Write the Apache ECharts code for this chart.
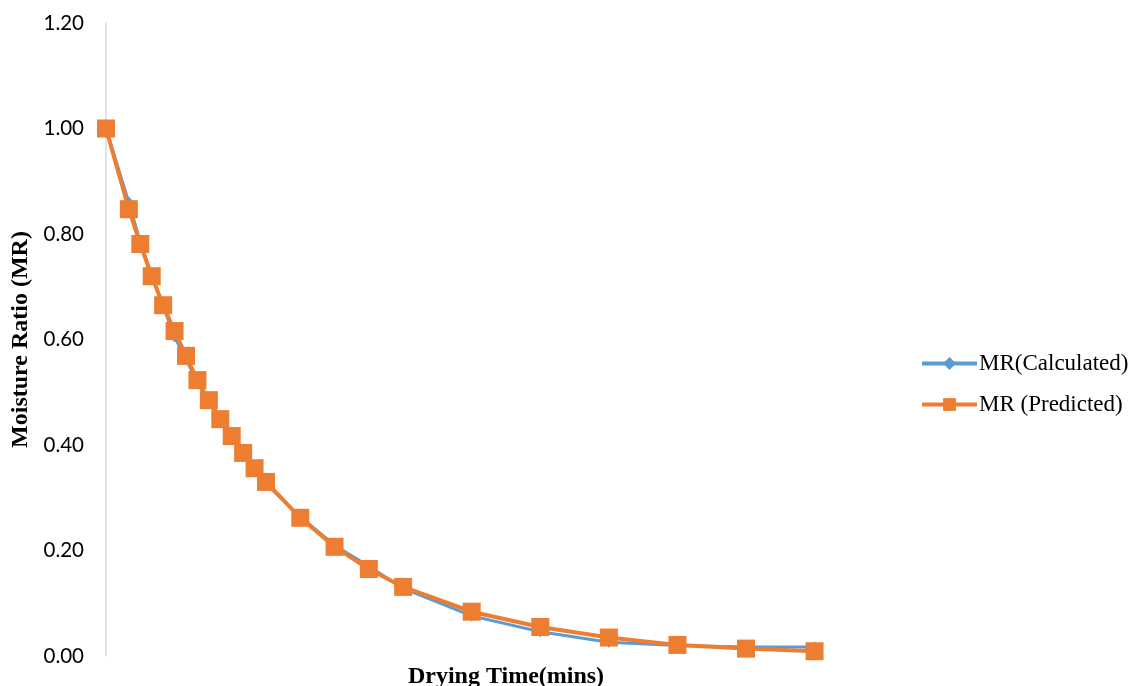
<!DOCTYPE html>
<html>
<head>
<meta charset="utf-8">
<script src="https://cdn.jsdelivr.net/npm/echarts@6/dist/echarts.min.js"></script>
<style>html,body{margin:0;padding:0;background:#fff;}#c{width:1136px;height:686px;}</style>
</head>
<body>
<div id="c"></div>
<script>
const times = [0, 10, 15, 20, 25, 30, 35, 40, 45, 50, 55, 60, 65, 70, 85, 100, 115, 130, 160, 190, 220, 250, 280, 310];
const mrCalculated = [1.00, 0.860, 0.785, 0.722, 0.663, 0.605, 0.562, 0.520, 0.478, 0.452, 0.420, 0.382, 0.352, 0.326, 0.264, 0.210, 0.170, 0.128, 0.076, 0.046, 0.026, 0.020, 0.017, 0.017];
const mrPredicted = [1.00, 0.847, 0.781, 0.720, 0.665, 0.616, 0.569, 0.523, 0.485, 0.449, 0.417, 0.385, 0.356, 0.330, 0.262, 0.207, 0.165, 0.131, 0.084, 0.055, 0.035, 0.021, 0.014, 0.009];
const yTicks = [0, 0.2, 0.4, 0.6, 0.8, 1.0, 1.2];

const chart = echarts.init(document.getElementById('c'));
chart.setOption({
  animation: false,
  grid: {left: 106, right: 230, top: 23, bottom: 30, containLabel: false, outerBoundsMode: 'none'},
  legend: {
    orient: 'vertical', left: 915, top: 347, itemGap: 18,
    itemWidth: 55, itemHeight: 16,
    textStyle: {fontFamily: 'Liberation Serif', fontSize: 23, color: '#000', padding: [0, 0, 0, -3]},
    data: [
      {name: 'MR(Calculated)', lineStyle: {width: 4, color: '#5B9BD5'}, itemStyle: {color: '#5B9BD5'}},
      {name: 'MR (Predicted)', lineStyle: {width: 4, color: '#ED7D31'}, itemStyle: {color: '#ED7D31'}}
    ]
  },
  xAxis: {
    type: 'value', min: 0, max: 350,
    axisLine: {show: false}, axisTick: {show: false}, axisLabel: {show: false}, splitLine: {show: false},
    name: 'Drying Time(mins)', nameLocation: 'middle', nameGap: 9,
    nameTextStyle: {fontFamily: 'Liberation Serif', fontWeight: 'bold', fontSize: 24, color: '#000'}
  },
  yAxis: {
    type: 'value', min: 0, max: 1.2, interval: 0.2,
    axisLine: {show: true, lineStyle: {color: '#d9d9d9', width: 1.5}},
    axisTick: {show: false}, splitLine: {show: false},
    axisLabel: {formatter: v => v.toFixed(2), fontFamily: 'Lato', fontSize: 20.5, color: '#000', margin: 22},
    name: 'Moisture Ratio (MR)', nameLocation: 'middle', nameGap: 73, nameRotate: 90,
    nameTextStyle: {fontFamily: 'Liberation Serif', fontWeight: 'bold', fontSize: 24, color: '#000'}
  },
  series: [
    {
      name: 'MR(Calculated)', type: 'line',
      data: times.map((t, i) => [t, mrCalculated[i]]),
      symbol: 'diamond', symbolSize: 11,
      lineStyle: {color: '#5B9BD5', width: 3},
      itemStyle: {color: '#5B9BD5'}
    },
    {
      name: 'MR (Predicted)', type: 'line',
      data: times.map((t, i) => [t, mrPredicted[i]]),
      symbol: 'rect', symbolSize: 18,
      lineStyle: {color: '#ED7D31', width: 4},
      itemStyle: {color: '#ED7D31'}
    }
  ]
});
</script>
</body>
</html>
